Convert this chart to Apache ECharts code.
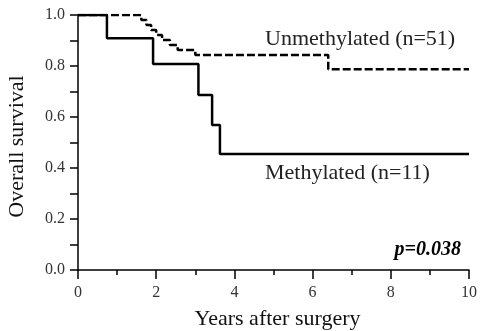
<!DOCTYPE html>
<html><head><meta charset="utf-8">
<script src="https://cdn.jsdelivr.net/npm/echarts@6/dist/echarts.min.js"></script>
<style>html,body{margin:0;padding:0;background:#fff}#c{width:481px;height:331px}</style>
</head><body><div id="c"></div>
<script>
// Kaplan-Meier step points: [years, survival]
const unmethylatedTimes = [0, 1.62, 1.75, 1.87, 2.0, 2.15, 2.35, 2.55, 3.0, 6.4, 10];
const unmethylatedSurv  = [1.0, 0.98, 0.961, 0.941, 0.922, 0.902, 0.882, 0.863, 0.843, 0.787, 0.787];
const methylatedTimes = [0, 0.74, 1.92, 3.08, 3.43, 3.63, 10];
const methylatedSurv  = [1.0, 0.909, 0.808, 0.686, 0.569, 0.455, 0.455];
const xTicks = [0, 2, 4, 6, 8, 10];
const yTicks = [0.0, 0.2, 0.4, 0.6, 0.8, 1.0];

const zip = (a, b) => a.map((t, i) => [t, b[i]]);
const font = '"Liberation Serif", "DejaVu Serif", serif';
const chart = echarts.init(document.getElementById('c'));
chart.setOption({
  animation: false,
  grid: {left: 78, right: 12, top: 15, bottom: 61, containLabel: false, outerBoundsMode: 'none'},
  xAxis: {
    type: 'value', min: xTicks[0], max: xTicks[xTicks.length - 1], interval: 2,
    name: 'Years after surgery', nameLocation: 'middle', nameGap: 38,
    nameTextStyle: {fontFamily: font, fontSize: 22, color: '#111', padding: [0, 0, 0, 8]},
    axisLine: {lineStyle: {color: '#000', width: 1.5}},
    axisTick: {length: 9, lineStyle: {color: '#000', width: 1.5}},
    minorTick: {show: true, splitNumber: 2, length: 5, lineStyle: {color: '#000', width: 1.5}},
    splitLine: {show: false},
    axisLabel: {fontFamily: font, fontSize: 16, color: '#333', margin: 15}
  },
  yAxis: {
    type: 'value', min: yTicks[0], max: yTicks[yTicks.length - 1], interval: 0.2,
    name: 'Overall survival', nameLocation: 'middle', nameGap: 50,
    nameTextStyle: {fontFamily: font, fontSize: 22, color: '#111', padding: [0, 8, 0, 0]},
    axisLine: {show: true, lineStyle: {color: '#000', width: 1.5}},
    axisTick: {show: true, length: 8, lineStyle: {color: '#000', width: 1.5}},
    minorTick: {show: true, splitNumber: 2, length: 8, lineStyle: {color: '#000', width: 1.5}},
    splitLine: {show: false},
    axisLabel: {fontFamily: font, fontSize: 16, color: '#333', margin: 13,
      formatter: v => v.toFixed(1)}
  },
  series: [
    {type: 'line', step: 'end', symbol: 'none', data: zip(unmethylatedTimes, unmethylatedSurv),
     lineStyle: {color: '#000', width: 2.5, type: [8, 3]}},
    {type: 'line', step: 'end', symbol: 'none', data: zip(methylatedTimes, methylatedSurv),
     lineStyle: {color: '#000', width: 2.5}}
  ],
  graphic: [
    {type: 'text', x: 265, y: 39, style: {text: 'Unmethylated (n=51)', font: '22px ' + font, fill: '#222', verticalAlign: 'middle'}},
    {type: 'text', x: 265, y: 173, style: {text: 'Methylated (n=11)', font: '22px ' + font, fill: '#222', verticalAlign: 'middle'}},
    {type: 'text', x: 461, y: 250, style: {text: 'p=0.038', font: 'italic bold 20px ' + font, fill: '#000', align: 'right', verticalAlign: 'middle'}}
  ]
});
</script></body></html>
